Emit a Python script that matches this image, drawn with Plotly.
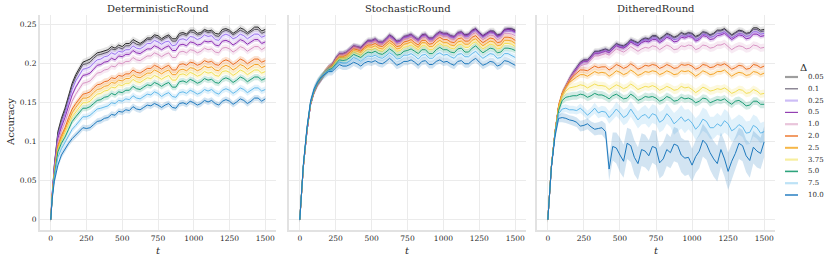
import plotly.graph_objects as go

# ---------------- data ----------------
t = [0, 10, 25, 50, 75, 100, 150, 200, 250, 300, 350, 400, 450, 500, 550, 600, 650,
     700, 750, 800, 850, 900, 950, 1000, 1050, 1100, 1150, 1200, 1250, 1300, 1350,
     1400, 1450, 1500]
t_mid = [125, 175, 225, 275, 325, 375, 425, 475, 525, 575, 625, 675, 725, 775, 825,
         875, 925, 975, 1025, 1075, 1125, 1175, 1225, 1275, 1325, 1375, 1425, 1475]

deltas = ["0.05", "0.1", "0.25", "0.5", "1.0", "2.0", "2.5", "3.75", "5.0", "7.5", "10.0"]
panel_titles = ["DeterministicRound", "StochasticRound", "DitheredRound"]
y_ticks = [0, 0.05, 0.1, 0.15, 0.2, 0.25]
x_ticks = [0, 250, 500, 750, 1000, 1250, 1500]

det_acc = [
    [0, .035, .070, .113, .130, .143, .175, .195, .204, .210, .215, .218, .220, .222, .226, .228, .229, .233, .236, .235, .232, .239, .238, .243, .240, .242, .239, .244, .243, .242, .244, .243, .247, .244],
    [0, .034, .068, .110, .127, .140, .172, .192, .200, .207, .212, .215, .218, .219, .223, .225, .227, .231, .233, .233, .229, .236, .236, .240, .238, .240, .236, .241, .241, .240, .241, .241, .244, .241],
    [0, .034, .067, .107, .123, .136, .167, .186, .194, .201, .206, .210, .212, .215, .218, .220, .222, .226, .228, .228, .223, .231, .230, .234, .233, .235, .231, .236, .236, .234, .236, .235, .238, .236],
    [0, .033, .065, .104, .119, .131, .160, .178, .186, .193, .199, .203, .205, .209, .212, .214, .216, .219, .221, .221, .217, .224, .223, .227, .225, .228, .224, .229, .228, .227, .229, .228, .231, .228],
    [0, .032, .063, .100, .114, .125, .152, .168, .176, .183, .189, .193, .196, .200, .203, .205, .207, .210, .212, .212, .208, .215, .214, .217, .216, .218, .215, .220, .219, .218, .220, .219, .222, .221],
    [0, .031, .060, .095, .108, .118, .142, .155, .162, .169, .174, .178, .181, .184, .187, .189, .191, .194, .196, .196, .192, .199, .198, .201, .200, .202, .199, .203, .203, .202, .204, .203, .206, .204],
    [0, .031, .059, .093, .105, .115, .137, .150, .156, .163, .168, .172, .175, .178, .181, .183, .185, .188, .190, .190, .186, .192, .191, .194, .193, .195, .192, .196, .196, .195, .197, .196, .199, .197],
    [0, .030, .058, .090, .102, .111, .132, .144, .150, .157, .162, .166, .169, .172, .175, .177, .179, .181, .183, .183, .179, .186, .185, .187, .186, .188, .185, .190, .189, .188, .190, .189, .192, .190],
    [0, .029, .056, .087, .098, .106, .126, .137, .143, .149, .154, .158, .160, .163, .166, .168, .170, .172, .174, .174, .170, .177, .176, .178, .177, .179, .176, .180, .180, .179, .181, .180, .183, .181],
    [0, .028, .053, .080, .091, .099, .116, .126, .132, .138, .143, .146, .149, .152, .154, .156, .158, .160, .162, .161, .158, .163, .162, .164, .163, .165, .163, .166, .166, .165, .167, .166, .169, .167],
    [0, .026, .049, .070, .083, .091, .104, .113, .117, .122, .127, .131, .134, .138, .140, .142, .144, .146, .147, .147, .144, .149, .148, .150, .149, .151, .149, .152, .152, .151, .153, .152, .156, .155],
]
det_acc_mid = [
    [.160, .186, .202, .206, .214, .217, .222, .224, .226, .231, .226, .233, .237, .232, .237, .232, .240, .243, .239, .244, .243, .238, .245, .239, .246, .240, .247, .242],
    [.157, .183, .199, .202, .211, .214, .219, .221, .223, .228, .224, .231, .235, .230, .235, .229, .238, .241, .237, .242, .241, .235, .243, .237, .243, .238, .244, .239],
    [.152, .178, .193, .196, .205, .209, .214, .216, .218, .223, .219, .226, .230, .225, .229, .224, .232, .235, .231, .237, .236, .230, .238, .232, .238, .232, .238, .234],
    [.146, .170, .185, .188, .198, .202, .207, .210, .212, .217, .213, .219, .223, .218, .223, .217, .225, .228, .224, .229, .229, .223, .230, .224, .231, .225, .231, .226],
    [.139, .161, .175, .178, .188, .192, .197, .201, .203, .208, .204, .210, .214, .209, .214, .208, .216, .218, .214, .220, .219, .214, .221, .215, .222, .216, .222, .218],
    [.131, .149, .161, .164, .173, .177, .182, .185, .187, .192, .188, .194, .198, .193, .198, .192, .200, .202, .198, .204, .203, .198, .205, .199, .206, .200, .206, .202],
    [.127, .144, .156, .158, .167, .171, .176, .179, .181, .186, .182, .188, .192, .187, .192, .186, .193, .195, .191, .197, .196, .191, .198, .192, .199, .193, .199, .195],
    [.122, .138, .150, .152, .161, .165, .170, .173, .175, .180, .176, .182, .185, .180, .185, .179, .187, .189, .184, .190, .189, .184, .191, .185, .192, .186, .192, .188],
    [.116, .132, .143, .145, .153, .157, .162, .164, .166, .171, .167, .173, .176, .171, .176, .170, .178, .180, .175, .181, .180, .175, .182, .176, .183, .177, .183, .179],
    [.108, .121, .132, .134, .142, .145, .150, .153, .155, .159, .155, .161, .164, .158, .163, .157, .164, .166, .161, .167, .167, .161, .168, .162, .169, .163, .169, .165],
    [.098, .109, .118, .118, .126, .130, .135, .139, .141, .145, .141, .147, .149, .144, .149, .143, .150, .152, .147, .153, .153, .147, .154, .148, .155, .149, .156, .152],
]

sto_acc = [
    [0, .030, .068, .113, .148, .164, .181, .195, .207, .213, .219, .222, .226, .230, .228, .232, .234, .230, .236, .234, .237, .233, .238, .239, .236, .240, .237, .243, .240, .239, .242, .238, .245, .243],
    [0, .030, .068, .113, .148, .164, .181, .195, .207, .213, .219, .222, .225, .229, .228, .231, .233, .230, .235, .234, .236, .232, .237, .238, .235, .239, .236, .242, .239, .238, .241, .237, .244, .242],
    [0, .030, .068, .113, .148, .164, .181, .195, .206, .212, .218, .221, .224, .228, .227, .230, .232, .229, .234, .233, .235, .231, .236, .237, .234, .238, .235, .240, .238, .237, .239, .236, .242, .240],
    [0, .030, .068, .113, .148, .164, .181, .195, .206, .212, .218, .221, .225, .229, .227, .231, .233, .229, .235, .233, .236, .232, .237, .238, .235, .239, .236, .242, .239, .238, .240, .237, .244, .241],
    [0, .030, .068, .114, .148, .164, .181, .194, .205, .211, .217, .220, .223, .227, .226, .229, .230, .227, .232, .231, .233, .229, .234, .235, .232, .236, .233, .238, .235, .234, .236, .233, .239, .236],
    [0, .030, .069, .115, .149, .165, .182, .194, .204, .209, .215, .218, .221, .224, .223, .226, .227, .223, .229, .227, .230, .225, .231, .231, .228, .232, .229, .234, .231, .230, .232, .228, .234, .230],
    [0, .031, .069, .115, .149, .165, .182, .194, .203, .208, .213, .216, .219, .221, .220, .223, .224, .220, .226, .224, .227, .222, .227, .227, .224, .228, .225, .230, .227, .226, .228, .224, .230, .226],
    [0, .031, .069, .116, .150, .166, .183, .193, .202, .206, .211, .213, .216, .218, .217, .220, .221, .217, .222, .221, .223, .218, .223, .223, .220, .224, .221, .226, .223, .222, .224, .220, .226, .222],
    [0, .031, .070, .116, .150, .166, .183, .192, .200, .204, .208, .210, .212, .214, .213, .215, .216, .212, .217, .216, .218, .213, .218, .218, .215, .219, .215, .220, .218, .217, .219, .215, .220, .217],
    [0, .031, .070, .117, .151, .167, .183, .191, .198, .201, .204, .206, .207, .209, .208, .210, .211, .207, .211, .210, .211, .207, .212, .211, .209, .212, .209, .213, .211, .210, .212, .208, .213, .208],
    [0, .031, .071, .118, .152, .168, .183, .190, .195, .197, .199, .200, .201, .202, .201, .203, .203, .200, .203, .202, .203, .199, .203, .202, .200, .203, .200, .204, .202, .200, .202, .199, .203, .198],
]
sto_acc_mid = [
    [.174, .189, .199, .213, .215, .223, .221, .230, .232, .228, .237, .229, .235, .238, .231, .238, .233, .241, .239, .235, .241, .238, .245, .236, .242, .237, .244, .245],
    [.174, .189, .199, .213, .215, .223, .220, .229, .231, .227, .236, .228, .234, .237, .231, .237, .232, .240, .238, .234, .240, .237, .244, .235, .241, .236, .243, .244],
    [.174, .189, .198, .212, .214, .222, .219, .228, .230, .226, .235, .227, .233, .236, .230, .236, .231, .239, .237, .233, .239, .235, .243, .234, .240, .234, .242, .242],
    [.174, .189, .198, .212, .214, .222, .220, .229, .231, .227, .236, .228, .234, .237, .230, .237, .232, .240, .238, .234, .240, .237, .244, .235, .241, .235, .243, .243],
    [.175, .189, .197, .211, .213, .221, .218, .227, .229, .225, .233, .225, .231, .234, .228, .234, .229, .237, .235, .231, .237, .233, .240, .231, .237, .231, .239, .238],
    [.175, .189, .197, .209, .211, .219, .216, .224, .226, .222, .230, .222, .228, .231, .224, .230, .226, .234, .231, .227, .233, .229, .236, .227, .233, .227, .234, .233],
    [.176, .189, .196, .208, .209, .217, .214, .222, .223, .219, .227, .219, .225, .228, .221, .227, .222, .230, .227, .223, .229, .225, .232, .223, .229, .223, .230, .229],
    [.176, .189, .195, .207, .207, .215, .211, .219, .220, .216, .224, .216, .221, .224, .218, .223, .218, .226, .223, .219, .225, .221, .228, .219, .225, .219, .226, .225],
    [.176, .188, .194, .205, .205, .212, .208, .215, .216, .212, .219, .211, .216, .219, .213, .218, .213, .221, .218, .214, .220, .215, .223, .214, .220, .214, .220, .219],
    [.177, .188, .192, .202, .201, .208, .203, .210, .211, .207, .214, .206, .211, .213, .206, .212, .207, .214, .212, .207, .213, .209, .216, .207, .213, .207, .213, .211],
    [.177, .187, .190, .199, .197, .202, .197, .203, .204, .200, .207, .198, .203, .205, .198, .204, .199, .205, .203, .198, .204, .200, .207, .198, .203, .197, .204, .201],
]

dit_acc = [
    [0, .030, .068, .112, .145, .162, .181, .195, .205, .210, .216, .219, .222, .224, .226, .229, .231, .232, .236, .235, .237, .236, .238, .239, .237, .240, .239, .243, .241, .240, .242, .240, .246, .244],
    [0, .030, .068, .112, .145, .162, .180, .194, .204, .209, .215, .218, .221, .223, .225, .228, .230, .231, .235, .234, .236, .235, .237, .238, .236, .239, .238, .242, .240, .239, .241, .239, .244, .242],
    [0, .030, .068, .112, .145, .161, .180, .194, .203, .208, .214, .217, .220, .222, .224, .227, .229, .230, .233, .232, .234, .232, .235, .236, .233, .237, .235, .239, .237, .236, .238, .236, .241, .239],
    [0, .030, .068, .112, .145, .161, .180, .193, .203, .208, .213, .216, .219, .221, .223, .225, .227, .228, .231, .230, .232, .229, .233, .234, .231, .235, .232, .237, .235, .234, .236, .233, .238, .236],
    [0, .030, .068, .112, .146, .162, .180, .192, .199, .205, .210, .213, .215, .217, .218, .219, .219, .220, .222, .221, .222, .219, .222, .223, .220, .223, .221, .224, .222, .221, .222, .220, .223, .221],
    [0, .031, .069, .113, .147, .162, .178, .188, .192, .194, .195, .196, .195, .197, .196, .197, .195, .197, .198, .196, .197, .195, .198, .197, .195, .198, .196, .198, .197, .195, .197, .194, .198, .197],
    [0, .031, .069, .113, .146, .161, .176, .183, .186, .187, .188, .188, .187, .189, .188, .189, .187, .189, .190, .188, .189, .187, .190, .188, .187, .189, .187, .190, .188, .187, .188, .186, .189, .188],
    [0, .031, .069, .112, .143, .158, .169, .171, .172, .171, .172, .171, .170, .171, .170, .171, .169, .170, .170, .168, .169, .167, .169, .167, .166, .168, .166, .167, .166, .164, .166, .163, .165, .162],
    [0, .031, .069, .111, .140, .153, .158, .159, .160, .159, .160, .158, .159, .158, .156, .158, .155, .157, .156, .154, .156, .153, .155, .154, .152, .155, .152, .153, .151, .152, .150, .147, .152, .148],
    [0, .031, .068, .110, .136, .142, .141, .140, .139, .138, .137, .138, .136, .137, .134, .135, .133, .130, .134, .128, .131, .127, .126, .124, .121, .126, .118, .120, .123, .117, .119, .112, .118, .113],
    [0, .031, .067, .107, .130, .131, .128, .125, .121, .119, .117, .113, .094, .083, .098, .080, .090, .082, .092, .078, .086, .095, .079, .070, .088, .097, .078, .090, .062, .085, .095, .076, .088, .100],
]
dit_acc_mid = [
    [.172, .189, .202, .205, .216, .218, .217, .226, .223, .231, .227, .233, .236, .232, .239, .234, .240, .240, .235, .241, .237, .243, .245, .237, .243, .239, .246, .243],
    [.172, .188, .201, .204, .215, .217, .216, .225, .222, .230, .226, .232, .235, .231, .238, .233, .239, .239, .234, .240, .236, .242, .244, .236, .242, .238, .244, .241],
    [.171, .188, .200, .203, .214, .216, .215, .224, .221, .229, .225, .231, .233, .229, .236, .231, .236, .237, .231, .238, .234, .239, .241, .233, .239, .235, .241, .238],
    [.171, .187, .200, .203, .213, .215, .214, .223, .220, .228, .223, .229, .231, .227, .234, .228, .234, .235, .229, .236, .231, .236, .239, .231, .237, .232, .238, .235],
    [.171, .186, .197, .200, .210, .212, .211, .219, .215, .222, .216, .221, .223, .218, .224, .218, .223, .224, .218, .224, .220, .224, .226, .218, .223, .219, .224, .220],
    [.171, .184, .192, .191, .197, .196, .192, .199, .194, .200, .193, .198, .199, .194, .199, .194, .199, .199, .193, .199, .195, .199, .200, .193, .198, .193, .199, .195],
    [.170, .180, .186, .184, .190, .189, .184, .191, .186, .192, .185, .190, .191, .186, .191, .186, .191, .191, .184, .191, .186, .190, .192, .184, .189, .185, .190, .186],
    [.165, .170, .173, .169, .174, .172, .167, .173, .168, .174, .167, .171, .172, .166, .171, .166, .171, .170, .163, .170, .165, .168, .169, .162, .167, .162, .167, .161],
    [.157, .159, .161, .157, .162, .160, .155, .161, .155, .161, .153, .158, .158, .152, .158, .152, .157, .156, .150, .156, .150, .154, .155, .148, .153, .146, .152, .148],
    [.143, .141, .143, .134, .143, .139, .131, .142, .131, .142, .128, .135, .136, .125, .136, .123, .132, .129, .116, .129, .118, .123, .127, .114, .122, .111, .121, .111],
    [.130, .127, .120, .123, .116, .118, .065, .092, .075, .095, .072, .088, .094, .073, .090, .097, .083, .080, .081, .102, .086, .072, .078, .075, .098, .082, .093, .085],
]

# spread (half-width of the shaded band)
det_sd = [.004, .003, .004, .003, .004, .004, .004, .004, .004, .004, .004]
sto_sd = [.004, .003, .004, .003, .004, .004, .004, .004, .004, .004, .005]
dit_sd = [.004, .003, .004, .003, .005, .004, .004, .005, .005, .006, .006]
dit_sd_75 = [0, .002, .004, .005, .005, .005, .005, .005, .006, .006, .007, .007, .008, .009, .010, .010, .011, .012, .012, .013, .012, .014, .015, .013, .014, .015, .014, .013, .015, .014, .013, .015, .014, .013]
dit_sd_10 = [0, .002, .004, .005, .005, .006, .006, .006, .007, .007, .008, .010, .018, .022, .020, .022, .021, .020, .022, .021, .020, .022, .023, .021, .022, .020, .023, .022, .024, .021, .020, .022, .021, .020]
dit_sd_75_mid = [.005, .005, .006, .006, .007, .007, .008, .009, .010, .010, .011, .012, .012, .013, .013, .014, .015, .013, .014, .015, .014, .014, .015, .014, .013, .015, .014, .013]
dit_sd_10_mid = [.006, .006, .007, .007, .008, .009, .015, .020, .021, .021, .021, .021, .021, .020, .021, .022, .022, .022, .021, .021, .022, .023, .023, .022, .020, .021, .021, .020]

# ---------------- styles ----------------
W, H = 830, 262
FONT = "DejaVu Serif"
TXT = '#2a2a2a'
line_colors = ['#262626', '#5b5466', '#9a72ef', '#8d2fb4', '#d894c4', '#eb6e1f',
               '#f4a326', '#f2de55', '#1c9d76', '#62b9ea', '#1e79bd']
band_colors = ['#808080', '#5b5466', '#9a72ef', '#8d2fb4', '#d894c4', '#eb6e1f',
               '#f4a326', '#f2de55', '#1c9d76', '#62b9ea', '#1e79bd']
legend_colors = ['#9e9e9e', '#726a7c', '#cdbdf6', '#9340b2', '#e9c5db', '#ef8440',
                 '#f6b748', '#f7ee9e', '#2ea47d', '#bde2f6', '#3587c6']
legend_widths = [2.2, 1.2, 2.2, 1.2, 2.2, 1.6, 2.0, 2.2, 1.6, 2.2, 1.6]


def rgba(h, a):
    h = h.lstrip('#')
    return f"rgba({int(h[0:2], 16)},{int(h[2:4], 16)},{int(h[4:6], 16)},{a})"


def merge(v_main, v_mid):
    assert len(v_main) == len(t) and len(v_mid) == len(t_mid)
    pts = sorted(zip(t + t_mid, v_main + v_mid))
    return [p[0] for p in pts], [p[1] for p in pts]


# panel pixel boxes
x_px = [(40, 276), (289, 526), (537, 775)]
y_top, y_bot = 15, 229.5

fig = go.Figure()

panels = [
    (det_acc, det_acc_mid,
     [[s] * len(t) for s in det_sd], [[s] * len(t_mid) for s in det_sd]),
    (sto_acc, sto_acc_mid,
     [[s] * len(t) for s in sto_sd], [[s] * len(t_mid) for s in sto_sd]),
    (dit_acc, dit_acc_mid,
     [[s] * len(t) for s in dit_sd[:9]] + [dit_sd_75, dit_sd_10],
     [[s] * len(t_mid) for s in dit_sd[:9]] + [dit_sd_75_mid, dit_sd_10_mid]),
]

for p, (acc, acc_mid, sds, sds_mid) in enumerate(panels):
    xa = 'x' if p == 0 else f'x{p + 1}'
    ya = 'y' if p == 0 else f'y{p + 1}'
    for i, d in enumerate(deltas):
        tx, m = merge(acc[i], acc_mid[i])
        _, sd = merge(sds[i], sds_mid[i])
        up = [a + s for a, s in zip(m, sd)]
        lo = [a - s for a, s in zip(m, sd)]
        fig.add_trace(go.Scatter(
            x=tx + tx[::-1], y=up + lo[::-1], fill='toself',
            fillcolor=rgba(band_colors[i], 0.2), line=dict(width=0),
            mode='lines', showlegend=False, hoverinfo='skip', xaxis=xa, yaxis=ya))
        fig.add_trace(go.Scatter(
            x=tx, y=m, mode='lines', line=dict(color=line_colors[i], width=1),
            name=d, showlegend=False, xaxis=xa, yaxis=ya))

axis_common = dict(
    showgrid=True, gridcolor='#ebebeb', gridwidth=1, zeroline=False,
    showline=True, linecolor='#e2e2e2', linewidth=2, ticks='',
    tickfont=dict(family=FONT, size=7.5, color=TXT),
)

layout = dict(
    width=W, height=H, margin=dict(l=0, r=0, t=0, b=0),
    paper_bgcolor='white', plot_bgcolor='white', showlegend=False,
)
for p in range(3):
    sfx = '' if p == 0 else str(p + 1)
    x0, x1 = x_px[p]
    layout['xaxis' + sfx] = dict(
        axis_common, domain=[x0 / W, x1 / W], range=[-75, 1575],
        tickvals=x_ticks, anchor='y' + sfx)
    layout['yaxis' + sfx] = dict(
        axis_common, domain=[1 - y_bot / H, 1 - y_top / H], range=[-0.0125, 0.2625],
        tickvals=y_ticks, showticklabels=(p == 0), anchor='x' + sfx)
fig.update_layout(**layout)

ann = []
for p in range(3):
    x0, x1 = x_px[p]
    ann.append(dict(text=panel_titles[p], x=(x0 + x1) / 2 / W, y=1 - 8 / H,
                    xref='paper', yref='paper', showarrow=False, xanchor='center',
                    yanchor='middle', font=dict(family=FONT, size=10, color=TXT)))
    ann.append(dict(text='<i>t</i>', x=(x0 + x1) / 2 / W, y=1 - 250 / H,
                    xref='paper', yref='paper', showarrow=False, xanchor='center',
                    yanchor='middle', font=dict(family=FONT, size=10, color=TXT)))
ann.append(dict(text='Accuracy', x=10 / W, y=1 - 122 / H, xref='paper', yref='paper',
                showarrow=False, textangle=-90, xanchor='center', yanchor='middle',
                font=dict(family=FONT, size=10, color=TXT)))

# legend (drawn manually to match compact spacing)
ann.append(dict(text='Δ', x=803 / W, y=1 - 67 / H, xref='paper', yref='paper',
                showarrow=False, xanchor='center', yanchor='middle',
                font=dict(family=FONT, size=10, color=TXT)))
shapes = []
for i, d in enumerate(deltas):
    yy = 77 + i * 11.8
    shapes.append(dict(type='line', xref='paper', yref='paper',
                       x0=785 / W, x1=798 / W, y0=1 - yy / H, y1=1 - yy / H,
                       line=dict(color=legend_colors[i], width=legend_widths[i])))
    ann.append(dict(text=d, x=806 / W, y=1 - yy / H, xref='paper', yref='paper',
                    showarrow=False, xanchor='left', yanchor='middle',
                    font=dict(family=FONT, size=7, color=TXT)))

fig.update_layout(annotations=ann, shapes=shapes)
fig.write_html("out.html", config={'displayModeBar': False},
               post_script="document.body.style.margin='0';")
